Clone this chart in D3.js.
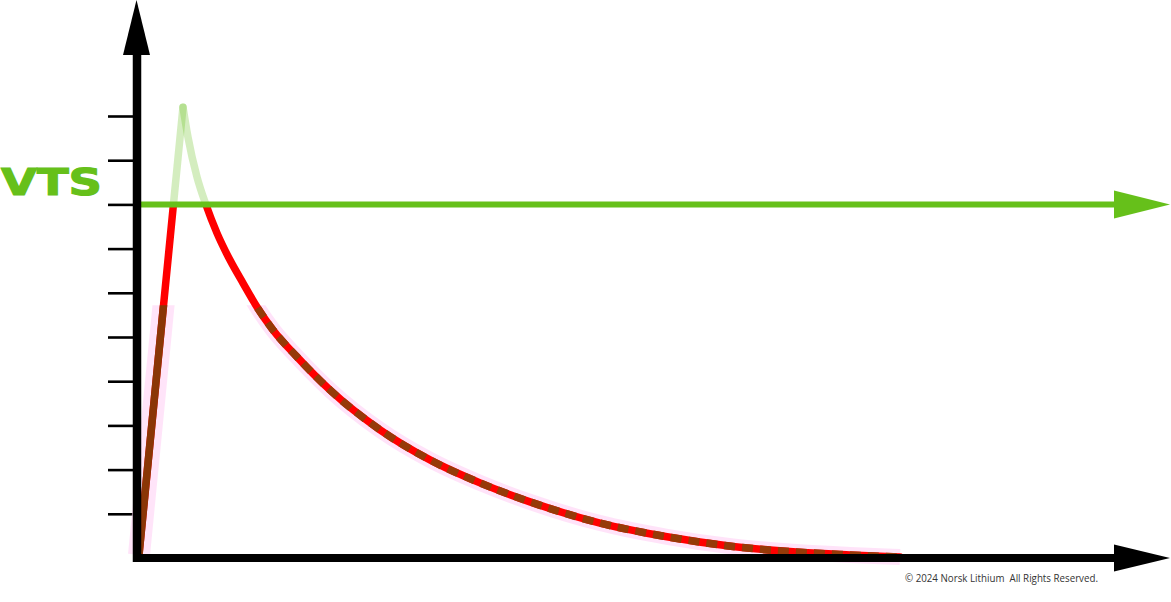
<!DOCTYPE html>
<html>
<head>
<meta charset="utf-8">
<script src="https://cdn.jsdelivr.net/npm/d3@7"></script>
<style>
  html, body { margin: 0; padding: 0; background: #fff; }
  svg { display: block; }
</style>
</head>
<body>
<div id="chart"></div>
<script>
// rise: straight line from origin up to the peak
const risePoints = [
  { t: 2,  v: 0.07 },
  { t: 46, v: 10.2 }
];

// decay after the peak
const decayPoints = [
  { t: 46,  v: 10.2 },
  { t: 51,  v: 9.52 },
  { t: 60,  v: 8.62 },
  { t: 69,  v: 7.99 },
  { t: 80,  v: 7.35 },
  { t: 93,  v: 6.74 },
  { t: 106, v: 6.22 },
  { t: 120, v: 5.68 },
  { t: 136, v: 5.16 },
  { t: 160, v: 4.55 },
  { t: 193, v: 3.80 },
  { t: 243, v: 2.90 },
  { t: 293, v: 2.22 },
  { t: 343, v: 1.70 },
  { t: 393, v: 1.27 },
  { t: 463, v: 0.79 },
  { t: 530, v: 0.48 },
  { t: 596, v: 0.26 },
  { t: 663, v: 0.13 },
  { t: 713, v: 0.07 },
  { t: 763, v: 0.02 }
];

const yTicks = [1, 2, 3, 4, 5, 6, 7, 8, 9, 10];
const vtsValue = 8;
const vtsLabel = "VTS";
const shadeBelow = 5.72;   // darker band of the curve starts here
const copyright = "© 2024 Norsk Lithium  All Rights Reserved.";

const width = 1171, height = 602;
const green = "#66c01a";
const curveW = 7.5;

const x = d3.scaleLinear().domain([0, 1000]).range([137, 1137]);
const y = d3.scaleLinear().domain([0, 10]).range([558, 116]);

const svg = d3.select("#chart").append("svg")
  .attr("width", width).attr("height", height)
  .attr("viewBox", [0, 0, width, height]);

svg.append("rect").attr("width", width).attr("height", height).attr("fill", "#fff");

const defs = svg.append("defs");
defs.append("clipPath").attr("id", "belowVts")
  .append("rect").attr("x", 0).attr("y", y(vtsValue)).attr("width", width).attr("height", height);
defs.append("clipPath").attr("id", "aboveVts")
  .append("rect").attr("x", 0).attr("y", 0).attr("width", width).attr("height", y(vtsValue));
defs.append("clipPath").attr("id", "shade")
  .append("rect").attr("x", 0).attr("y", y(shadeBelow)).attr("width", width).attr("height", height);

const line = d3.line().x(d => x(d.t)).y(d => y(d.v));
const riseD = line.curve(d3.curveLinear)(risePoints);
const decayD = line.curve(d3.curveMonotoneX)(decayPoints);

// y axis ticks
svg.append("g")
  .attr("transform", `translate(133,0)`)
  .call(d3.axisLeft(y).tickValues(yTicks).tickSize(25).tickFormat(""))
  .call(g => g.select(".domain").remove())
  .call(g => g.selectAll(".tick line").attr("stroke", "#000").attr("stroke-width", 2.6));

// pink halo on the lower part of the curve
const halo = svg.append("g").attr("clip-path", "url(#shade)");
halo.append("path").attr("d", riseD).attr("fill", "none")
  .attr("stroke", "#ffd9f7").attr("stroke-width", 22).attr("opacity", 0.7);
halo.append("path").attr("d", decayD).attr("fill", "none")
  .attr("stroke", "#ffd9f7").attr("stroke-width", 16).attr("opacity", 0.75);

// faded part above VTS
const above = svg.append("g").attr("clip-path", "url(#aboveVts)");
[riseD, decayD].forEach(d => above.append("path").attr("d", d)
  .attr("fill", "none").attr("stroke", green).attr("stroke-opacity", 0.28)
  .attr("stroke-width", curveW).attr("stroke-linecap", "round").attr("stroke-linejoin", "round"));

// red part below VTS
const below = svg.append("g").attr("clip-path", "url(#belowVts)");
[riseD, decayD].forEach(d => below.append("path").attr("d", d)
  .attr("fill", "none").attr("stroke", "#ff0000")
  .attr("stroke-width", curveW).attr("stroke-linecap", "round"));

// darker band
const shade = svg.append("g").attr("clip-path", "url(#shade)");
shade.append("path").attr("d", riseD).attr("fill", "none")
  .attr("stroke", "#8a3606").attr("stroke-width", curveW);
shade.append("path").attr("d", decayD).attr("fill", "none")
  .attr("stroke", "#963a08").attr("stroke-width", curveW)
  .attr("stroke-dasharray", "11,7");

// VTS line + arrow
const arrowEnd = 1114, arrowTip = 1170;
svg.append("line")
  .attr("x1", 140).attr("x2", arrowEnd + 2)
  .attr("y1", y(vtsValue)).attr("y2", y(vtsValue))
  .attr("stroke", green).attr("stroke-width", 6);
svg.append("path")
  .attr("d", `M${arrowEnd},${y(vtsValue) - 14}L${arrowTip},${y(vtsValue)}L${arrowEnd},${y(vtsValue) + 14}Z`)
  .attr("fill", green);

svg.append("text")
  .attr("x", 1).attr("y", y(vtsValue) - 9)
  .attr("font-family", "DejaVu Sans").attr("font-weight", "bold")
  .attr("font-size", 38).attr("fill", green)
  .attr("stroke", green).attr("stroke-width", 1.2)
  .attr("textLength", 101).attr("lengthAdjust", "spacingAndGlyphs")
  .text(vtsLabel);

// axes
svg.append("line")
  .attr("x1", 133).attr("x2", arrowEnd + 2)
  .attr("y1", y(0)).attr("y2", y(0))
  .attr("stroke", "#000").attr("stroke-width", 8);
svg.append("path")
  .attr("d", `M${arrowEnd},${y(0) - 13.5}L${arrowTip},${y(0)}L${arrowEnd},${y(0) + 13.5}Z`)
  .attr("fill", "#000");

svg.append("line")
  .attr("x1", 137).attr("x2", 137)
  .attr("y1", y(0) + 4).attr("y2", 53)
  .attr("stroke", "#000").attr("stroke-width", 8.5);
svg.append("path")
  .attr("d", `M123,55L136.5,0L150,55Z`)
  .attr("fill", "#000");

svg.append("text")
  .attr("x", 905).attr("y", 582)
  .attr("font-family", "Open Sans").attr("font-size", 10)
  .attr("fill", "#333")
  .style("white-space", "pre")
  .attr("textLength", 193).attr("lengthAdjust", "spacingAndGlyphs")
  .text(copyright);
</script>
</body>
</html>
